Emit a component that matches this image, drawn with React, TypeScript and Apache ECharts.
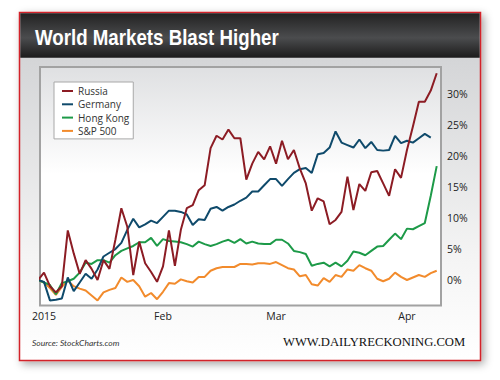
import React, { useEffect, useRef } from "react";
import * as echarts from "echarts";

const tradingDays = [
  "2014-12-31",
  "2015-01-02", "2015-01-05", "2015-01-06", "2015-01-07", "2015-01-08", "2015-01-09",
  "2015-01-12", "2015-01-13", "2015-01-14", "2015-01-15", "2015-01-16",
  "2015-01-20", "2015-01-21", "2015-01-22", "2015-01-23",
  "2015-01-26", "2015-01-27", "2015-01-28", "2015-01-29", "2015-01-30",
  "2015-02-02", "2015-02-03", "2015-02-04", "2015-02-05", "2015-02-06",
  "2015-02-09", "2015-02-10", "2015-02-11", "2015-02-12", "2015-02-13",
  "2015-02-17", "2015-02-18", "2015-02-19", "2015-02-20",
  "2015-02-23", "2015-02-24", "2015-02-25", "2015-02-26", "2015-02-27",
  "2015-03-02", "2015-03-03", "2015-03-04", "2015-03-05", "2015-03-06",
  "2015-03-09", "2015-03-10", "2015-03-11", "2015-03-12", "2015-03-13",
  "2015-03-16", "2015-03-17", "2015-03-18", "2015-03-19", "2015-03-20",
  "2015-03-23", "2015-03-24", "2015-03-25", "2015-03-26", "2015-03-27",
  "2015-03-30", "2015-03-31",
  "2015-04-01", "2015-04-02", "2015-04-06", "2015-04-07", "2015-04-08", "2015-04-09",
];

const russia = [
  0, 1.2, -1.0, -2.0, -1.0, 8.0, 4.3, 1.0, 3.2, 1.8, 0.0, 3.2, 1.8, 6.5, 11.6, 8.6, 0.8,
  6.2, 2.7, 1.3, -0.3, 2.2, 8.0, 2.3, 8.1, 11.6, 12.1, 14.5, 15.3, 21.3, 23.3, 22.7, 24.3,
  22.9, 22.9, 16.2, 18.8, 20.7, 19.5, 21.6, 18.8, 22.5, 19.5, 21.0, 18.0, 15.6, 11.2, 13.2,
  12.7, 9.0, 9.7, 11.0, 16.7, 11.3, 15.5, 14.4, 17.4, 17.6, 15.6, 13.6, 17.9, 16.5, 21.0,
  24.8, 28.8, 28.8, 30.6, 33.4,
];

const germany = [
  0, -0.3, -3.3, -3.2, -3.0, 0.4, -1.8, -0.4, 1.0, 0.2, 1.7, 3.8, 4.4, 5.0, 6.0, 8.1,
  9.9, 8.5, 9.0, 9.6, 9.2, 10.2, 11.2, 11.2, 11.0, 10.6, 8.9, 9.8, 9.7, 11.5, 11.8,
  11.2, 11.8, 12.2, 12.8, 13.3, 14.3, 14.3, 15.3, 16.3, 16.3, 15.2, 16.3, 17.3, 17.9, 18.1,
  17.3, 20.3, 20.5, 21.4, 24.0, 22.2, 21.8, 21.4, 22.7, 21.3, 22.3, 21.0, 20.9, 21.0, 23.3,
  22.1, 22.5, 22.2, 22.9, 23.6, 23.0, null,
];

const hongKong = [
  0, -0.4, -0.8, -2.3, -0.5, -0.2, 0.2, 1.2, 2.8, 2.6, 3.2, 3.2, 2.8, 4.0, 4.7, 5.1,
  5.5, 6.1, 6.1, 6.8, 5.5, 6.6, 6.3, 6.2, 6.1, 5.8, 5.4, 6.2, 5.8, 5.5, 5.8,
  6.2, 6.5, 6.0, 6.6, 5.9, 6.2, 5.9, 5.8, 5.8, 6.5, 6.5, 5.9, 4.7, 4.5, 4.2,
  2.3, 2.6, 2.8, 2.2, 2.8, 2.2, 3.1, 4.6, 4.4, 4.0, 4.7, 5.4, 5.5, 6.5, 7.5,
  6.6, 8.3, 8.2, 8.7, 9.2, 13.6, 18.4,
];

const sp500 = [
  0, -0.4, -1.3, -2.4, -1.1, -0.1, -1.0, -1.4, -1.7, -2.5, -3.3, -2.0, -1.6, -1.3, 0.4, -0.3,
  0.0, -1.0, -2.7, -2.1, -3.1, -1.9, -0.5, -0.6, 0.1, -0.2, -0.4, 0.5, 0.5, 1.5, 1.9,
  2.1, 2.1, 2.1, 2.6, 2.6, 2.5, 2.7, 2.7, 2.6, 2.9, 2.4, 1.9, 1.7, 0.6, 0.8,
  -0.7, -0.9, 0.3, -0.3, 0.8, 0.5, 1.7, 1.5, 2.4, 1.9, 1.5, 0.2, -0.2, 0.2, 1.2,
  0.5, 0.0, 0.4, 0.8, 0.5, 1.1, 1.5,
];

const seriesNames = ["Russia", "Germany", "Hong Kong", "S&P 500"];
const seriesColors = ["#8c1c24", "#0f4a6b", "#1d9a48", "#f28b2c"];
const monthStarts = ["2015-01-02", "2015-02-02", "2015-03-02", "2015-04-01"];
const monthLabels = ["2015", "Feb", "Mar", "Apr"];
const titleText = "World Markets Blast Higher";
const sourceText = "Source: StockCharts.com";
const siteText = "WWW.DAILYRECKONING.COM";

export default function App() {
  const ref = useRef<HTMLDivElement>(null);

  useEffect(() => {
    if (!ref.current) return;
    const chart = echarts.init(ref.current, null, { renderer: "svg" });
    const values = [russia, germany, hongKong, sp500];
    const tickIdx = monthStarts.map((d) => tradingDays.indexOf(d));
    const font = "'Open Sans', 'Noto Sans', sans-serif";

    chart.setOption({
      animation: false,
      backgroundColor: "#ffffff",
      grid: {
        left: 40,
        right: 59,
        top: 67,
        bottom: 74.5,
        show: true,
        borderColor: "#a2a2a2",
        borderWidth: 2,
        backgroundColor: new echarts.graphic.LinearGradient(0, 0, 0, 1, [
          { offset: 0, color: "#dfe0e2" },
          { offset: 0.45, color: "#ffffff" },
          { offset: 1, color: "#ffffff" },
        ]),
        z: 2,
      },
      legend: {
        data: seriesNames,
        orient: "vertical",
        left: 54,
        top: 82,
        icon: "rect",
        itemWidth: 11,
        itemHeight: 2,
        itemGap: 1.3,
        padding: [3, 4, 2, 8],
        backgroundColor: "#ffffff",
        borderColor: "#a8a8a8",
        borderWidth: 1,
        textStyle: { fontSize: 10, color: "#333", fontFamily: font, lineHeight: 12 },
      },
      xAxis: {
        type: "value",
        min: 0.33,
        max: 67.72,
        axisLine: { show: false },
        axisTick: { show: false, customValues: tickIdx },
        axisLabel: {
          customValues: tickIdx,
          margin: 5,
          fontSize: 10.5,
          color: "#222",
          fontFamily: font,
          formatter: (v: number) => {
            const k = tickIdx.indexOf(Math.round(v));
            return k >= 0 ? monthLabels[k] : "";
          },
        },
        splitLine: { show: true, lineStyle: { color: "#b0b0b0", width: 1 } },
      },
      yAxis: {
        type: "value",
        position: "right",
        min: -4.12,
        max: 34.41,
        splitNumber: 8,
        minInterval: 5,
        maxInterval: 5,
        axisLine: { show: false },
        axisTick: { show: false },
        axisLabel: {
          showMinLabel: false,
          showMaxLabel: false,
          margin: 6,
          fontSize: 10.5,
          color: "#222",
          fontFamily: font,
          formatter: (v: number) => `${Math.round(v)}%`,
        },
        splitLine: { show: true, lineStyle: { color: "#b8b8b8", width: 1 } },
      },
      series: seriesNames.map((name, k) => ({
        name,
        type: "line",
        data: values[k].map((v, i) => [i, v]),
        symbol: "none",
        color: seriesColors[k],
        lineStyle: { width: 2, color: seriesColors[k] },
        z: 5 + (3 - k),
      })),
      graphic: [
        {
          type: "rect",
          z: -20,
          shape: { x: 19.5, y: 12.5, width: 461, height: 348 },
          style: {
            fill: new echarts.graphic.LinearGradient(0, 0, 0, 1, [
              { offset: 0, color: "#d4d5d7" },
              { offset: 0.13, color: "#d4d5d7" },
              { offset: 0.7, color: "#f4f4f4" },
              { offset: 1, color: "#ffffff" },
            ]),
            stroke: "#d2232b",
            lineWidth: 1.5,
            shadowBlur: 8,
            shadowColor: "rgba(0,0,0,0.35)",
            shadowOffsetX: 3,
            shadowOffsetY: 3,
          },
        },
        {
          type: "rect",
          z: -19,
          shape: { x: 20.3, y: 13.3, width: 459.4, height: 44.5 },
          style: {
            fill: new echarts.graphic.LinearGradient(0, 0, 0, 1, [
              { offset: 0, color: "#222222" },
              { offset: 0.55, color: "#4b4c4e" },
              { offset: 1, color: "#1b1b1b" },
            ]),
          },
        },
        {
          type: "text",
          z: 100,
          x: 35,
          y: 37,
          scaleX: 0.85,
          style: {
            text: titleText,
            fill: "#ffffff",
            fontSize: 22,
            fontWeight: "bold",
            fontFamily: "'Liberation Sans', Arial, sans-serif",
            verticalAlign: "middle",
            align: "left",
          },
        },
        {
          type: "text",
          z: 100,
          x: 32,
          y: 343,
          style: {
            text: sourceText,
            fill: "#333",
            fontSize: 8.5,
            fontStyle: "italic",
            fontFamily: "Lato, 'Open Sans', sans-serif",
            verticalAlign: "middle",
          },
        },
        {
          type: "text",
          z: 100,
          x: 283,
          y: 342,
          scaleX: 1.1,
          style: {
            text: siteText,
            fill: "#111",
            fontSize: 11.5,
            fontFamily: "'Liberation Serif', 'DejaVu Serif', serif",
            verticalAlign: "middle",
          },
        },
      ],
    });

    return () => chart.dispose();
  }, []);

  return (
    <div
      ref={ref}
      style={{ position: "fixed", left: 0, top: 0, width: 500, height: 380 }}
    />
  );
}
